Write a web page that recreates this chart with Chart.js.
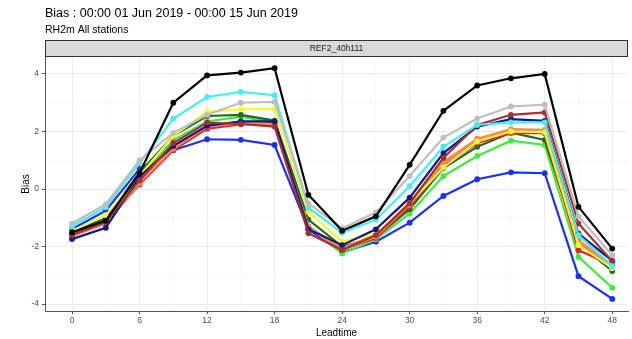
<!DOCTYPE html>
<html lang="en">
<head>
<meta charset="UTF-8">
<title>Bias RH2m</title>
<script src="https://cdn.jsdelivr.net/npm/chart.js"></script>
<style>
	html, body { margin: 0; padding: 0; background: #fff; }
	#wrap { width: 632px; height: 339px; position: relative; }
</style>
</head>
<body>
<div id="wrap"><canvas id="biasChart"></canvas></div>
<script>
// leadtimes (h)
const leadtime = [0, 3, 6, 9, 12, 15, 18, 21, 24, 27, 30, 33, 36, 39, 42, 45, 48];
const xTicks = [0, 6, 12, 18, 24, 30, 36, 42, 48];
const yTicks = [-4, -2, 0, 2, 4];

// bias per model
const black  = [-1.5, -1.1, 0.55, 3.0, 3.95, 4.05, 4.2, -0.2, -1.45, -0.95, 0.84, 2.72, 3.6, 3.85, 4.0, -0.62, -2.07];
const gray   = [-1.2, -0.53, 1.0, 1.95, 2.58, 3.0, 3.03, -0.5, -1.37, -0.81, 0.45, 1.79, 2.45, 2.87, 2.93, -0.95, -2.3];
const cyan   = [-1.3, -0.63, 0.9, 2.45, 3.2, 3.38, 3.26, -0.65, -1.52, -1.06, 0.1, 1.47, 2.23, 2.32, 2.32, -1.6, -2.68];
const brown  = [-1.6, -1.15, 0.3, 1.6, 2.31, 2.26, 2.17, -1.54, -2.12, -1.6, -0.5, 1.08, 2.23, 2.58, 2.66, -1.2, -2.51];
const navy   = [-1.74, -1.35, 0.43, 1.5, 2.2, 2.35, 2.35, -1.4, -1.95, -1.4, -0.3, 1.25, 2.17, 2.43, 2.37, -1.55, -2.5];
const yellow = [-1.45, -0.91, 0.45, 1.85, 2.68, 2.78, 2.78, -0.79, -1.83, -1.55, -0.5, 0.75, 1.65, 2.0, 1.98, -1.95, -2.75];
const orange = [-1.6, -1.15, 0.25, 1.45, 2.2, 2.3, 2.25, -1.3, -2.05, -1.6, -0.45, 0.95, 1.75, 2.08, 2.06, -1.78, -2.65];
const salmon = [-1.64, -1.2, 0.2, 1.4, 2.17, 2.29, 2.2, -1.35, -2.1, -1.65, -0.55, 0.9, 1.68, 2.05, 2.0, -1.85, -2.7];
const red    = [-1.55, -1.14, 0.16, 1.35, 2.1, 2.25, 2.29, -1.31, -2.1, -1.7, -0.6, 0.8, 1.6, 1.95, 1.94, -2.13, -2.65];
const dkgreen= [-1.49, -1.02, 0.57, 1.85, 2.54, 2.58, 2.38, -1.06, -2.0, -1.68, -0.7, 0.73, 1.47, 1.96, 1.71, -1.9, -2.85];
const lime   = [-1.55, -1.1, 0.4, 1.7, 2.35, 2.52, 2.3, -1.3, -2.24, -1.75, -0.85, 0.45, 1.15, 1.68, 1.53, -2.36, -3.43];
const blue   = [-1.4, -0.75, 0.7, 1.35, 1.73, 1.71, 1.53, -1.4, -2.2, -1.83, -1.17, -0.24, 0.34, 0.58, 0.55, -3.03, -3.82];

const series = [
	['black', black, '#000000'],
	['gray', gray, '#BEBEBE'],
	['cyan', cyan, '#45EEF2'],
	['brown', brown, '#A53030'],
	['navy', navy, '#0A1A8C'],
	['yellow', yellow, '#F8F53A'],
	['orange', orange, '#F39040'],
	['salmon', salmon, '#F47B6B'],
	['red', red, '#F02020'],
	['dkgreen', dkgreen, '#1E6E1E'],
	['lime', lime, '#3CEB3C'],
	['blue', blue, '#1A30FF']
];

const datasets = series.map(s => ({
	label: s[0],
	data: leadtime.map((x, i) => ({ x: x, y: s[1][i] })),
	borderColor: s[2],
	backgroundColor: s[2],
	borderWidth: 2.2,
	pointRadius: 2.9,
	pointBorderWidth: 0,
	tension: 0
}));

// ggplot-like header + facet strip
const header = {
	id: 'header',
	afterDraw(chart) {
		const c = chart.ctx;
		const a = chart.chartArea;
		c.save();
		c.fillStyle = '#000';
		c.textBaseline = 'alphabetic';
		c.textAlign = 'left';
		c.font = '12.5px "Liberation Sans", Arial, sans-serif';
		c.fillText('Bias : 00:00 01 Jun 2019 - 00:00 15 Jun 2019', a.left, 17);
		c.font = '10.5px "Liberation Sans", Arial, sans-serif';
		c.fillText('RH2m All stations', a.left, 33);
		// strip
		c.fillStyle = '#D9D9D9';
		c.fillRect(a.left, 40, a.right - a.left, 17);
		c.strokeStyle = '#333';
		c.lineWidth = 1;
		c.strokeRect(a.left + 0.5, 40.5, a.right - a.left - 1, 16);
		c.fillStyle = '#1A1A1A';
		c.font = '8.5px "Liberation Sans", Arial, sans-serif';
		c.textAlign = 'center';
		c.textBaseline = 'middle';
		c.fillText('REF2_40h111', (a.left + a.right) / 2, 49);
		c.restore();
	}
};

const txt = '"Liberation Sans", Arial, sans-serif';

new Chart(document.getElementById('biasChart'), {
	type: 'line',
	data: { datasets: datasets },
	plugins: [header],
	options: {
		responsive: true,
		maintainAspectRatio: false,
		animation: false,
		layout: { padding: { top: 57, right: 2, left: 0, bottom: 0 } },
		plugins: { legend: { display: false }, tooltip: { enabled: false } },
		scales: {
			x: {
				type: 'linear',
				min: -2.4,
				max: 49.4,
				afterBuildTicks: s => { s.ticks = leadtime.map(v => ({ value: v })); },
				afterFit: s => { s.height = 28; },
				ticks: {
					autoSkip: false,
					maxRotation: 0,
					padding: 2,
					color: '#4D4D4D',
					font: { family: txt, size: 8.5 },
					callback: v => xTicks.includes(v) ? String(v) : ''
				},
				grid: {
					color: c => xTicks.includes(c.tick.value) ? '#EBEBEB' : '#F4F4F4',
					lineWidth: c => xTicks.includes(c.tick.value) ? 1 : 0.6,
					tickColor: c => xTicks.includes(c.tick.value) ? '#555' : 'rgba(0,0,0,0)',
					tickLength: 3
				},
				border: { color: '#555', width: 1 },
				title: { display: true, text: 'Leadtime', color: '#000', font: { family: txt, size: 10 }, padding: { top: 0, bottom: 0 } }
			},
			y: {
				type: 'linear',
				min: -4.24,
				max: 4.59,
				afterBuildTicks: s => { s.ticks = [-4, -3, -2, -1, 0, 1, 2, 3, 4].map(v => ({ value: v })); },
				afterFit: s => { s.width = 45; },
				ticks: {
					autoSkip: false,
					padding: 3,
					color: '#4D4D4D',
					font: { family: txt, size: 8.5 },
					callback: v => yTicks.includes(v) ? String(v) : ''
				},
				grid: {
					color: c => yTicks.includes(c.tick.value) ? '#EBEBEB' : '#F4F4F4',
					lineWidth: c => yTicks.includes(c.tick.value) ? 1 : 0.6,
					tickColor: c => yTicks.includes(c.tick.value) ? '#555' : 'rgba(0,0,0,0)',
					tickLength: 3
				},
				border: { color: '#555', width: 1 },
				title: { display: true, text: 'Bias', color: '#000', font: { family: txt, size: 10 }, padding: { top: 20, bottom: 0 } }
			}
		}
	}
});
</script>
</body>
</html>
